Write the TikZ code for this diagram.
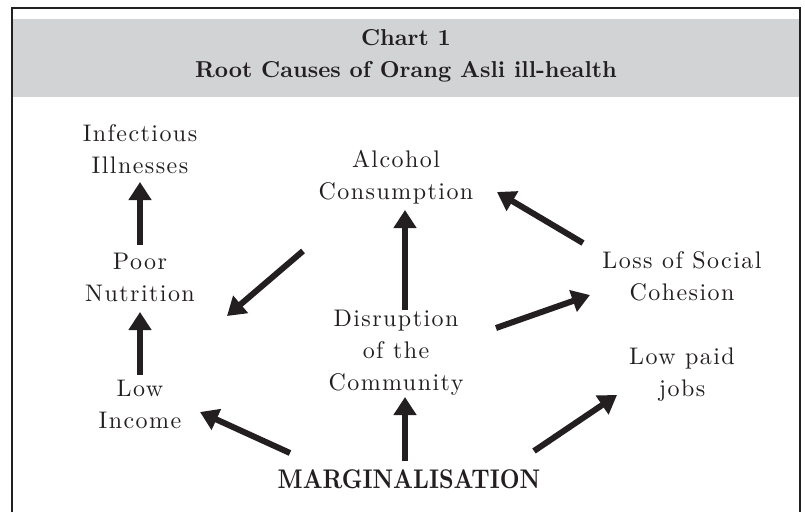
\documentclass[tikz,border=0pt]{standalone}
\usepackage{fontspec}
\usepackage{graphicx}
\usetikzlibrary{arrows.meta}
\newfontfamily\bodyfont{lmroman10-regular.otf}[LetterSpace=6]
\newfontfamily\headfont{lmroman10-bold.otf}
\newfontfamily\margfont{lmroman10-bold.otf}
\definecolor{ink}{HTML}{231F20}
\definecolor{hdr}{HTML}{D1D3D4}
\tikzset{
  frameline/.style={line width=2.5pt, draw=ink},
  lbl/.style={text=ink, align=center, inner sep=0pt, anchor=base, font=\bodyfont\fontsize{24}{32}\selectfont},
  headlbl/.style={text=ink, align=center, inner sep=0pt, anchor=base, font=\headfont\fontsize{23}{32}\selectfont},
  marglbl/.style={text=ink, inner sep=0pt, anchor=base, font=\margfont\fontsize{27}{30}\selectfont},
  bigarrow/.style={draw=ink, line width=6pt, -{Triangle[length=18pt,width=22pt]}}
}
\begin{document}
\begin{tikzpicture}[x=1pt,y=-1pt]
\useasboundingbox (0,0) rectangle (805,512);
\fill[hdr] (13,19) rectangle (799,97);
\draw[frameline] (12,512) -- (12,8) -- (800,8) -- (800,512);

% multi-line nodes: base anchor sits on the last line's baseline
\node[headlbl] (title) at (406,77) {Chart 1\\Root Causes of Orang Asli ill-health};

\node[lbl] (inf) at (140,173) {Infectious\\Illnesses};
\node[lbl] (poor) at (140,301) {Poor\\Nutrition};
\node[lbl] (low) at (140,428) {Low\\Income};
\node[lbl] (alc) at (396,199) {Alcohol\\Consumption};
\node[lbl] (dis) at (396,390) {Disruption\\of the\\Community};
\node[lbl] (loss) at (682,300) {Loss of Social\\Cohesion};
\node[lbl] (jobs) at (682,396) {Low paid\\jobs};
\node[marglbl] (marg) at (409,488) {\scalebox{0.85}[1]{MARGINALISATION}};

% arrow end points
\coordinate (a1t) at (140,245); \coordinate (a1h) at (140,182);
\coordinate (a2t) at (140,375); \coordinate (a2h) at (140,312);
\coordinate (a3t) at (303,251); \coordinate (a3h) at (227,316);
\coordinate (a4t) at (405,310); \coordinate (a4h) at (405,210);
\coordinate (a5t) at (583,243); \coordinate (a5h) at (497,192);
\coordinate (a6t) at (496,328); \coordinate (a6h) at (590,295);
\coordinate (a7t) at (534,451); \coordinate (a7h) at (617,395);
\coordinate (a8t) at (405,461); \coordinate (a8h) at (405,397);
\coordinate (a9t) at (290,453); \coordinate (a9h) at (200,412);

\draw[bigarrow] (a1t) -- (a1h);
\draw[bigarrow] (a2t) -- (a2h);
\draw[bigarrow] (a3t) -- (a3h);
\draw[bigarrow] (a4t) -- (a4h);
\draw[bigarrow] (a5t) -- (a5h);
\draw[bigarrow] (a6t) -- (a6h);
\draw[bigarrow] (a7t) -- (a7h);
\draw[bigarrow] (a8t) -- (a8h);
\draw[bigarrow] (a9t) -- (a9h);
\end{tikzpicture}
\end{document}
